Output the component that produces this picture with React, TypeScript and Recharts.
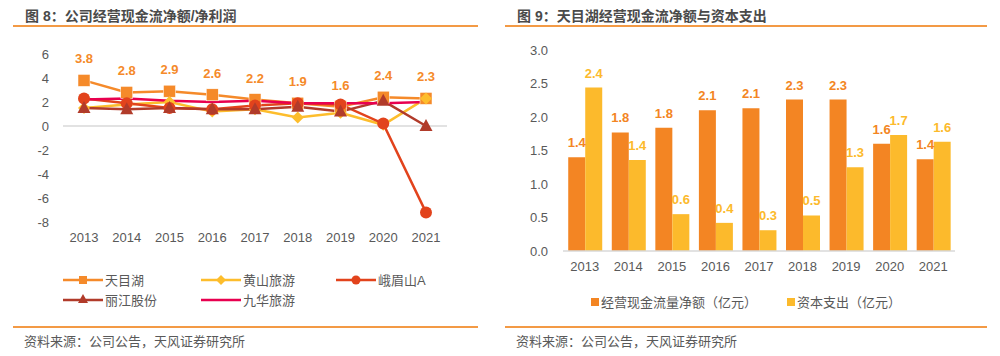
import React from "react";
import {
  LineChart,
  Line,
  BarChart,
  Bar,
  XAxis,
  YAxis,
  ReferenceLine,
  LabelList,
} from "recharts";

const years = ["2013", "2014", "2015", "2016", "2017", "2018", "2019", "2020", "2021"];

// 图8: 经营现金流净额/净利润
const tianmuhu = [3.8, 2.8, 2.9, 2.6, 2.2, 1.9, 1.6, 2.4, 2.3];
const huangshan = [1.5, 1.8, 2.0, 1.2, 1.4, 0.7, 1.1, 0.1, 2.3];
const emeishan = [2.3, 1.9, 1.5, 1.4, 1.7, 1.9, 1.8, 0.2, -7.2];
const lijiang = [1.5, 1.4, 1.5, 1.4, 1.4, 1.6, 1.2, 2.1, 0.0];
const jiuhua = [2.2, 2.3, 2.1, 2.0, 2.1, 1.9, 1.9, 1.9, 2.0];
const leftTicks = [-8, -6, -4, -2, 0, 2, 4, 6];

// 图9: 天目湖经营现金流净额与资本支出
const opCashFlow = [1.4, 1.77, 1.84, 2.1, 2.13, 2.26, 2.26, 1.6, 1.37];
const capex = [2.44, 1.36, 0.55, 0.42, 0.31, 0.53, 1.25, 1.73, 1.63];
const rightTicks = [0, 0.5, 1, 1.5, 2, 2.5, 3];

const lineData = years.map((year, i) => ({
  year,
  tmh: tianmuhu[i],
  hs: huangshan[i],
  ems: emeishan[i],
  lj: lijiang[i],
  jh: jiuhua[i],
}));

const barData = years.map((year, i) => ({
  year,
  cf: opCashFlow[i],
  capex: capex[i],
}));

const ORANGE = "#F58A2A";
const YELLOW = "#FDBD2C";
const RED = "#E2431C";
const BROWN = "#B13B2A";
const PINK = "#E8004F";
const BAR_ORANGE = "#F38523";
const BAR_YELLOW = "#FCBA2C";
const TEXT = "#595959";
const RULE = "#F39A45";

const FONT = '"Liberation Sans", "Noto Sans CJK SC", Arial, sans-serif';

const square = (color: string) => (p: any) =>
  p.cx == null ? <g key={p.index} /> : (
    <rect key={p.index} x={p.cx - 6} y={p.cy - 6} width={12} height={12} fill={color} stroke="#fff" strokeWidth={0.5} />
  );
const diamond = (color: string) => (p: any) =>
  p.cx == null ? <g key={p.index} /> : (
    <polygon
      key={p.index}
      points={`${p.cx},${p.cy - 6} ${p.cx + 6},${p.cy} ${p.cx},${p.cy + 6} ${p.cx - 6},${p.cy}`}
      fill={color}
    />
  );
const circle = (color: string) => (p: any) =>
  p.cx == null ? <g key={p.index} /> : <circle key={p.index} cx={p.cx} cy={p.cy} r={6} fill={color} />;
const triangle = (color: string) => (p: any) =>
  p.cx == null ? <g key={p.index} /> : (
    <polygon
      key={p.index}
      points={`${p.cx},${p.cy - 7} ${p.cx + 6.5},${p.cy + 5} ${p.cx - 6.5},${p.cy + 5}`}
      fill={color}
    />
  );

const legendItems = [
  { name: "天目湖", color: ORANGE, marker: "square", x: 42, y: 278 },
  { name: "黄山旅游", color: YELLOW, marker: "diamond", x: 180, y: 278 },
  { name: "峨眉山A", color: RED, marker: "circle", x: 315, y: 278 },
  { name: "丽江股份", color: BROWN, marker: "triangle", x: 42, y: 298 },
  { name: "九华旅游", color: PINK, marker: "none", x: 180, y: 298 },
];

const LegendMarker = ({ color, marker }: { color: string; marker: string }) => (
  <svg width={42} height={14} style={{ display: "block" }}>
    <line x1={1} y1={7} x2={41} y2={7} stroke={color} strokeWidth={2.5} />
    {marker === "square" && <rect x={17} y={3} width={8} height={8} fill={color} />}
    {marker === "diamond" && <polygon points="21,2 26,7 21,12 16,7" fill={color} />}
    {marker === "circle" && <circle cx={21} cy={7} r={4.5} fill={color} />}
    {marker === "triangle" && <polygon points="21,1 26,10 16,10" fill={color} />}
  </svg>
);

const Title = ({ text, left, width }: { text: string; left: number; width: number }) => (
  <>
    <div
      style={{
        position: "absolute",
        left: left + 12,
        top: 5,
        fontSize: 14,
        fontWeight: "bold",
        color: "#4a4a4a",
        whiteSpace: "nowrap",
      }}
    >
      {text}
    </div>
    <div style={{ position: "absolute", left, top: 25, width, height: 1.5, background: RULE }} />
    <div style={{ position: "absolute", left, top: 326, width, height: 1.5, background: RULE }} />
    <div style={{ position: "absolute", left: left + 11, top: 331, fontSize: 13, color: TEXT, whiteSpace: "nowrap" }}>
      资料来源：公司公告，天风证券研究所
    </div>
  </>
);

const fmt = (v: any) => Number(v).toFixed(1);

export default function App() {
  return (
    <div
      style={{
        position: "fixed",
        left: 0,
        top: 0,
        width: 1000,
        height: 356,
        background: "#fff",
        fontFamily: FONT,
        overflow: "hidden",
      }}
    >
      <Title text="图 8：公司经营现金流净额/净利润" left={13} width={465} />
      <Title text="图 9：天目湖经营现金流净额与资本支出" left={505} width={482} />

      <div style={{ position: "absolute", left: 0, top: 0 }}>
        <LineChart width={480} height={260} data={lineData} margin={{ top: 54, right: 33, bottom: 8, left: 0 }}>
          <XAxis
            dataKey="year"
            axisLine={false}
            tickLine={false}
            interval={0}
            height={30}
            padding={{ left: 21, right: 21 }}
            tickMargin={5}
            tick={{ fill: TEXT, fontSize: 13 }}
          />
          <YAxis
            domain={[-8, 6]}
            ticks={leftTicks}
            width={63}
            axisLine={false}
            tickLine={false}
            tickMargin={8}
            tick={{ fill: TEXT, fontSize: 13 }}
          />
          <ReferenceLine y={0} stroke="#D9D9D9" strokeWidth={1.5} />
          <Line dataKey="tmh" stroke={ORANGE} strokeWidth={2.5} dot={square(ORANGE)} isAnimationActive={false}>
            <LabelList
              dataKey="tmh"
              position="top"
              offset={17}
              formatter={fmt}
              fill={ORANGE}
              fontSize={13}
              fontWeight="bold"
            />
          </Line>
          <Line dataKey="hs" stroke={YELLOW} strokeWidth={2.5} dot={diamond(YELLOW)} isAnimationActive={false} />
          <Line dataKey="ems" stroke={RED} strokeWidth={2.5} dot={circle(RED)} isAnimationActive={false} />
          <Line dataKey="lj" stroke={BROWN} strokeWidth={2.5} dot={triangle(BROWN)} isAnimationActive={false} />
          <Line dataKey="jh" stroke={PINK} strokeWidth={2.5} dot={false} isAnimationActive={false} />
        </LineChart>
      </div>

      {legendItems.map((it) => (
        <div
          key={it.name}
          style={{
            position: "absolute",
            left: it.x + 20,
            top: it.y - 8,
            display: "flex",
            alignItems: "center",
            fontSize: 13,
            color: TEXT,
            whiteSpace: "nowrap",
          }}
        >
          <LegendMarker color={it.color} marker={it.marker} />
          <span style={{ marginLeft: 1 }}>{it.name}</span>
        </div>
      ))}

      <div style={{ position: "absolute", left: 500, top: 0 }}>
        <BarChart
          width={480}
          height={282}
          data={barData}
          margin={{ top: 50, right: 25, bottom: 1, left: 0 }}
          barCategoryGap="12%"
          barGap={0}
        >
          <XAxis
            dataKey="year"
            stroke="#D9D9D9"
            strokeWidth={1.5}
            tickLine={false}
            interval={0}
            height={30}
            tickMargin={5}
            tick={{ fill: TEXT, fontSize: 13 }}
          />
          <YAxis
            domain={[0, 3]}
            ticks={rightTicks}
            width={63}
            axisLine={false}
            tickLine={false}
            tickMargin={9}
            tickFormatter={fmt}
            tick={{ fill: TEXT, fontSize: 13 }}
          />
          <Bar dataKey="cf" fill={BAR_ORANGE} isAnimationActive={false}>
            <LabelList
              dataKey="cf"
              position="top"
              offset={10}
              formatter={fmt}
              fill={BAR_ORANGE}
              fontSize={13}
              fontWeight="bold"
            />
          </Bar>
          <Bar dataKey="capex" fill={BAR_YELLOW} isAnimationActive={false}>
            <LabelList
              dataKey="capex"
              position="top"
              offset={10}
              formatter={fmt}
              fill={BAR_YELLOW}
              fontSize={13}
              fontWeight="bold"
            />
          </Bar>
        </BarChart>
      </div>

      <div
        style={{
          position: "absolute",
          left: 591,
          top: 292,
          display: "flex",
          alignItems: "center",
          fontSize: 13,
          color: TEXT,
          whiteSpace: "nowrap",
        }}
      >
        <span style={{ width: 8, height: 8, background: BAR_ORANGE, display: "inline-block", marginRight: 2 }} />
        <span>经营现金流量净额（亿元）</span>
        <span
          style={{ width: 8, height: 8, background: BAR_YELLOW, display: "inline-block", marginLeft: 30, marginRight: 2 }}
        />
        <span>资本支出（亿元）</span>
      </div>
    </div>
  );
}
